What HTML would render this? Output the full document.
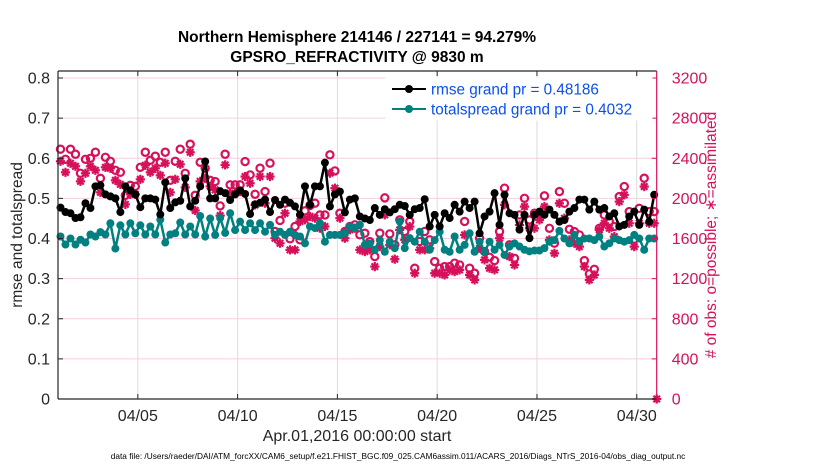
<!DOCTYPE html>
<html><head><meta charset="utf-8"><style>
body{margin:0;background:#fff;}
svg{display:block;font-family:"Liberation Sans",sans-serif;}
</style></head><body>
<svg id="chart" width="830" height="470" viewBox="0 0 830 470" xmlns="http://www.w3.org/2000/svg">
<rect width="830" height="470" fill="#fff"/>
<text x="357" y="42" text-anchor="middle" font-size="15.5" font-weight="bold" fill="#000">Northern Hemisphere 214146 / 227141 = 94.279%</text>
<text x="357" y="62" text-anchor="middle" font-size="15.5" font-weight="bold" fill="#000">GPSRO_REFRACTIVITY @ 9830 m</text>
<g id="grid"></g>
<g id="series"></g>
<g id="axes"></g>
<text transform="translate(22,235) rotate(-90)" text-anchor="middle" font-size="15.5" fill="#262626">rmse and totalspread</text>
<text transform="translate(716,235) rotate(-90)" text-anchor="middle" font-size="15.5" fill="#d6105a"># of obs: o=possible; ∗=assimilated</text>
<text x="357" y="441" text-anchor="middle" font-size="16" fill="#262626">Apr.01,2016 00:00:00 start</text>
<text x="398" y="459" text-anchor="middle" font-size="8.3" fill="#000">data file: /Users/raeder/DAI/ATM_forcXX/CAM6_setup/f.e21.FHIST_BGC.f09_025.CAM6assim.011/ACARS_2016/Diags_NTrS_2016-04/obs_diag_output.nc</text>
<g id="legend">
  <rect x="386" y="78" width="266" height="42" fill="#fff" stroke="#fff"/>
  <g>
    <line x1="392" y1="89" x2="426" y2="89" stroke="#000" stroke-width="2"/>
    <circle cx="409" cy="89" r="4" fill="#000"/>
    <text x="431" y="94.5" font-size="15.3" fill="#0a4ff0">rmse grand pr = 0.48186</text>
  </g>
  <g>
    <line x1="392" y1="109" x2="426" y2="109" stroke="#008080" stroke-width="2"/>
    <circle cx="409" cy="109" r="4" fill="#008080"/>
    <text x="431" y="114.5" font-size="15.3" fill="#0a4ff0">totalspread grand pr = 0.4032</text>
  </g>
</g>
</svg>
<script>
const rmse=[0.477,0.466,0.463,0.451,0.453,0.488,0.476,0.53,0.533,0.51,0.505,0.5,0.466,0.53,0.52,0.51,0.478,0.5,0.5,0.497,0.46,0.54,0.476,0.49,0.494,0.55,0.48,0.494,0.53,0.592,0.5,0.5,
0.518,0.513,0.496,0.51,0.52,0.511,0.461,0.485,0.489,0.497,0.466,0.496,0.484,0.497,0.489,0.48,0.459,0.53,0.484,0.53,0.53,0.589,0.48,0.51,0.517,0.465,0.497,0.5,0.455,0.45,
0.446,0.476,0.459,0.473,0.465,0.473,0.484,0.481,0.459,0.473,0.476,0.498,0.43,0.459,0.43,0.463,0.451,0.484,0.467,0.492,0.476,0.492,0.413,0.455,0.467,0.513,0.434,0.509,0.463,0.459,
0.422,0.459,0.401,0.459,0.467,0.459,0.472,0.459,0.442,0.446,0.467,0.476,0.497,0.497,0.472,0.492,0.472,0.476,0.455,0.463,0.430,0.434,0.455,0.467,0.434,0.472,0.442,0.509];
const spread=[0.405,0.385,0.40,0.385,0.397,0.39,0.41,0.405,0.416,0.41,0.438,0.375,0.433,0.41,0.438,0.413,0.433,0.41,0.43,0.41,0.447,0.39,0.41,0.413,0.44,0.41,0.43,0.41,0.456,0.405,0.45,
0.409,0.451,0.414,0.463,0.421,0.442,0.421,0.438,0.421,0.438,0.417,0.434,0.409,0.417,0.409,0.417,0.409,0.405,0.388,0.430,0.426,0.438,0.392,0.409,0.409,0.409,0.414,0.430,0.426,0.434,
0.384,0.388,0.372,0.396,0.367,0.392,0.376,0.442,0.376,0.401,0.392,0.417,0.392,0.372,0.396,0.417,0.372,0.367,0.405,0.372,0.384,0.413,0.367,0.392,0.367,0.392,0.372,0.384,0.359,0.38,
0.388,0.380,0.372,0.368,0.37,0.37,0.376,0.392,0.396,0.419,0.400,0.388,0.409,0.392,0.400,0.400,0.396,0.405,0.380,0.388,0.400,0.396,0.392,0.396,0.409,0.400,0.372,0.400,0.400];
const possible=[2490,2390,2490,2440,2250,2390,2400,2460,2200,2410,2370,2280,2260,2030,2130,2120,2310,2460,2380,2420,2360,2460,2180,2370,2490,2250,2540,2030,2360,2300,2180,
2168,1925,2440,2135,2135,2135,2367,2234,2041,2301,2068,2351,1670,1780,1952,1597,1720,1587,1876,1929,1952,1835,1835,2434,2274,1852,1670,1720,1737,1637,
1653,1570,1420,1653,2005,1646,1537,1786,1670,1770,1304,1570,1670,1587,1370,1304,1320,1320,1354,1337,1770,1304,1254,1603,1470,1413,1380,1670,2102,1537,
1403,1835,2001,1785,1852,1852,2025,1702,1553,2068,1951,1692,1669,1636,1380,1247,1293,1702,1835,1769,1719,2018,2118,1868,1593,1901,2201,1868,1868];
const assimilated=[2370,2260,2350,2320,2170,2250,2320,2280,2060,2310,2300,2180,2140,1940,2040,2040,2190,2330,2260,2300,2230,2350,2060,2190,2340,2110,2460,1880,2170,2200,2120,
2085,1829,2334,2052,2052,2068,2218,2151,1935,2218,1952,2218,1603,1553,1852,1487,1487,1770,1787,1820,1803,1703,1720,2251,2102,1803,1603,1687,1703,1487,
1470,1487,1320,1520,1836,1537,1394,1686,1587,1720,1254,1487,1487,1503,1254,1254,1237,1287,1270,1287,1636,1237,1187,1503,1387,1304,1287,1603,1936,1420,
1336,1735,1918,1702,1702,1785,1918,1586,1453,1951,1802,1586,1553,1519,1320,1187,1237,1686,1752,1702,1619,1968,2035,1752,1519,1752,2118,1752,1752];
const yTicks=[0,0.1,0.2,0.3,0.4,0.5,0.6,0.7,0.8];
const yTickLabels=["0","0.1","0.2","0.3","0.4","0.5","0.6","0.7","0.8"];
const y2Ticks=[0,400,800,1200,1600,2000,2400,2800,3200];
const xTickDays=[4,9,14,19,24,29];
const xTickLabels=["04/05","04/10","04/15","04/20","04/25","04/30"];
const startHour=3, stepHours=6;

const L=58,R=656.7,T=71,B=399;
const X=d=>L+(R-L)*d/30;
const Y=v=>B-(v/0.8175)*(B-T);
const Y2=c=>Y(c/4000);
const tx=i=>X((startHour+i*stepHours)/24);
const NS='http://www.w3.org/2000/svg';
function mk(tag,attrs,parent){const e=document.createElementNS(NS,tag);for(const k in attrs)e.setAttribute(k,attrs[k]);parent.appendChild(e);return e;}
const grid=document.getElementById('grid'),ser=document.getElementById('series'),ax=document.getElementById('axes');
const PINK='#d6105a';

yTicks.forEach((v,i)=>{
  const g=mk('line',{x1:L,x2:R,y1:Y(v),y2:Y(v),stroke:'#f6cfe0','stroke-width':1},grid);
  
  
  const t=mk('text',{x:L-8,y:Y(v)+5.5,'text-anchor':'end','font-size':16,fill:'#262626'},ax);
  t.textContent=yTickLabels[i];
  
  
  const tk=mk('line',{x1:L,x2:L+5,y1:Y(v),y2:Y(v),stroke:'#262626'},ax);
  
  
});
y2Ticks.forEach(c=>{
  const t=mk('text',{x:R+15,y:Y2(c)+5.5,'font-size':16,fill:PINK},ax);
  t.textContent=String(c);
  
  
  const tk=mk('line',{x1:R-5,x2:R,y1:Y2(c),y2:Y2(c),stroke:PINK},ax);
  
  
});
xTickDays.forEach((d,i)=>{
  const g=mk('line',{x1:X(d),x2:X(d),y1:T,y2:B,stroke:'#dcdcdc','stroke-width':1},grid);
  
  
  const t=mk('text',{x:X(d),y:421,'text-anchor':'middle','font-size':16,fill:'#262626'},ax);
  t.textContent=xTickLabels[i];
  
  
  const tk=mk('line',{x1:X(d),x2:X(d),y1:B,y2:B-5,stroke:'#262626'},ax);
  
  
  const tk2=mk('line',{x1:X(d),x2:X(d),y1:T,y2:T+5,stroke:'#262626'},ax);
  
  
});
[[L,T,R,T,'#262626','axis-top'],[L,T,L,B,'#262626','y-axis-line'],[L,B,R,B,'#262626','x-axis-line'],[R,T,R,B,PINK,'y2-axis-line']].forEach(a=>{
  const l=mk('line',{x1:a[0],y1:a[1],x2:a[2],y2:a[3],stroke:a[4],'stroke-width':1.2},ax);
  
  
});

function star(cx,cy,parent){
  const g=mk('g',{stroke:PINK,'stroke-width':2.2},parent);
  
  
  const r=4.6;
  for(let k=0;k<4;k++){const a=k*Math.PI/4;mk('line',{x1:cx-r*Math.cos(a),y1:cy-r*Math.sin(a),x2:cx+r*Math.cos(a),y2:cy+r*Math.sin(a)},g);}
}
assimilated.forEach((c,i)=>star(tx(i),Y2(c),ser));
possible.forEach((c,i)=>{
  const e=mk('circle',{cx:tx(i),cy:Y2(c),r:3.6,fill:'none',stroke:PINK,'stroke-width':2.2},ser);
  
  
});
star(R,B,ser);
mk('circle',{cx:R,cy:B,r:3,fill:PINK},ser);

function lineSeries(vals,color,name){
  const p=mk('polyline',{points:vals.map((v,i)=>tx(i)+','+Y(v)).join(' '),fill:'none',stroke:color,'stroke-width':2.5},ser);
  
  
  vals.forEach((v,i)=>{
    const c=mk('circle',{cx:tx(i),cy:Y(v),r:4,fill:color},ser);
    
    
  });
}
lineSeries(spread,'#008080','totalspread');
lineSeries(rmse,'#000','rmse');
</script>
</body></html>
